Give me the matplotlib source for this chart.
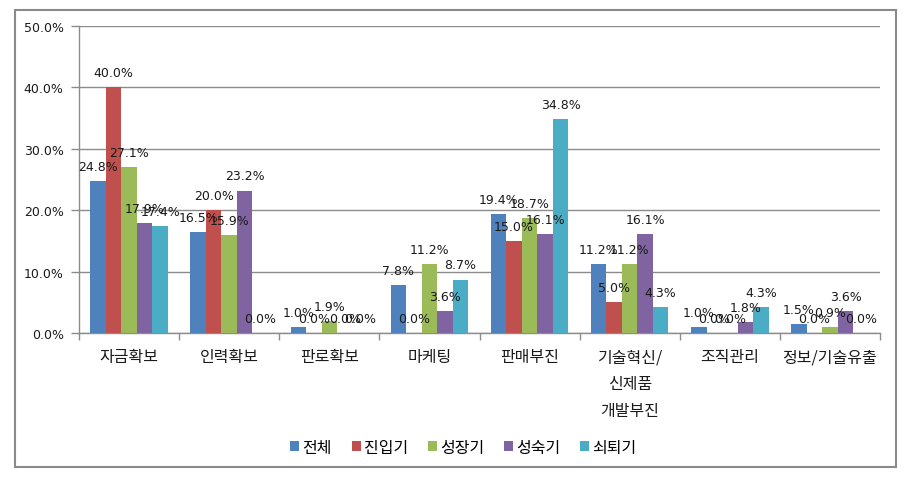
import numpy as np
import matplotlib
matplotlib.use("Agg")
import matplotlib.pyplot as plt
from matplotlib.patches import Rectangle
from matplotlib.ticker import FixedLocator

categories = ["자금확보", "인력확보", "판로확보", "마케팅", "판매부진",
              "기술혁신/\n신제품\n개발부진", "조직관리", "정보/기술유출"]
series_names = ["전체", "진입기", "성장기", "성숙기", "쇠퇴기"]

total = [24.8, 16.5, 1.0, 7.8, 19.4, 11.2, 1.0, 1.5]
entry = [40.0, 20.0, 0.0, 0.0, 15.0, 5.0, 0.0, 0.0]
growth = [27.1, 15.9, 1.9, 11.2, 18.7, 11.2, 0.0, 0.9]
mature = [17.9, 23.2, 0.0, 3.6, 16.1, 16.1, 1.8, 3.6]
decline = [17.4, 0.0, 0.0, 8.7, 34.8, 4.3, 4.3, 0.0]

series = [total, entry, growth, mature, decline]
colors = ["#4F81BD", "#C0504D", "#9BBB59", "#8064A2", "#4BACC6"]

kr_font = ["Noto Sans CJK KR", "DejaVu Sans"]

fig = plt.figure(figsize=(9.16, 4.85), dpi=100)
W, H = 916, 485
ax = fig.add_axes([79 / W, 1 - 334 / H, (880 - 79) / W, (334 - 27) / H])

x = np.arange(len(categories))
w = 0.155
for j, (vals, col, name) in enumerate(zip(series, colors, series_names)):
    pos = x + (j - 2) * w
    ax.bar(pos, vals, width=w, color=col, label=name, zorder=3)
    for px, v in zip(pos, vals):
        ax.annotate(f"{v:.1f}%", (px, v), xytext=(0, 10.5), textcoords="offset points",
                    ha="center", va="center", fontsize=9, color="#1a1a1a", zorder=5)

ax.set_xlim(-0.5, len(categories) - 0.5)
ax.set_ylim(0, 50)
ax.set_yticks(np.arange(0, 51, 10))
ax.set_yticklabels([f"{t:.1f}%" for t in np.arange(0, 51, 10)], fontsize=9, color="#1a1a1a")
ax.yaxis.grid(True, color="#8c8c8c", linewidth=1, zorder=0)
ax.tick_params(axis="y", length=6, width=1, color="#8c8c8c", pad=5)

ax.set_xticks(x)
ax.set_xticklabels(categories, fontsize=11.5, family=kr_font, color="#1a1a1a",
                   linespacing=1.75)
ax.tick_params(axis="x", which="major", length=0, pad=11)
ax.xaxis.set_minor_locator(FixedLocator(np.arange(-0.5, len(categories), 1)))
ax.tick_params(axis="x", which="minor", length=5, width=1, color="#8c8c8c")

for s in ["top", "right"]:
    ax.spines[s].set_visible(False)
for s in ["left", "bottom"]:
    ax.spines[s].set_color("#8c8c8c")
    ax.spines[s].set_linewidth(1)

leg = fig.legend(loc="center", bbox_to_anchor=(0.506, 1 - 448 / H), ncol=5, frameon=False,
                 prop={"family": kr_font, "size": 11.5}, handlelength=0.55, handleheight=0.55,
                 handletextpad=0.2, columnspacing=1.25)

fig.patches.append(Rectangle((15 / W, 1 - 468 / H), (896 - 15) / W, (468 - 11) / H,
                             transform=fig.transFigure, fill=False,
                             edgecolor="#8a8a8a", linewidth=1.5))

fig.savefig("out.png", dpi=100)
